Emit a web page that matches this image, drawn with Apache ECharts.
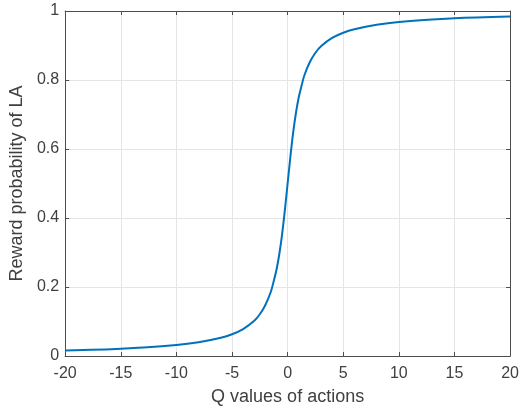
<!DOCTYPE html>
<html lang="en">
<head>
    <meta charset="UTF-8">
    <title>Reward probability of LA</title>
    <style>
        html, body { margin: 0; padding: 0; background: #fff; }
        #chart { width: 522px; height: 411px; }
    </style>
</head>
<body>
<div id="chart"></div>
<script src="https://cdn.jsdelivr.net/npm/echarts/dist/echarts.min.js"></script>
<script>
    // values
    const qValues = [-20, -15, -10, -8, -6, -5, -4, -3, -2.5, -2, -1.5, -1.25, -1, -0.75, -0.5, -0.25, 0,
        0.25, 0.5, 0.75, 1, 1.25, 1.5, 2, 2.5, 3, 4, 5, 6, 8, 10, 15, 20];
    const rewardProb = [0.016, 0.021, 0.032, 0.040, 0.053, 0.063, 0.078, 0.102, 0.121, 0.148, 0.187, 0.217, 0.250, 0.295, 0.352, 0.422, 0.500,
        0.578, 0.648, 0.705, 0.750, 0.783, 0.813, 0.852, 0.879, 0.898, 0.922, 0.937, 0.947, 0.960, 0.968, 0.979, 0.984];
    const xTicks = [-20, -15, -10, -5, 0, 5, 10, 15, 20];
    const yTicks = [0, 0.2, 0.4, 0.6, 0.8, 1];

    const axisColor = '#4d4d4d';
    const textColor = '#404040';
    const font = 'Liberation Sans, Arial, sans-serif';

    const chart = echarts.init(document.getElementById('chart'));

    const baseX = {
        type: 'value',
        min: xTicks[0],
        max: xTicks[xTicks.length - 1],
        interval: 5,
        axisLine: { show: true, onZero: false, lineStyle: { color: axisColor, width: 1 } },
        axisTick: { show: true, inside: true, length: 4, lineStyle: { color: axisColor } }
    };
    const baseY = {
        type: 'value',
        min: yTicks[0],
        max: yTicks[yTicks.length - 1],
        interval: 0.2,
        axisLine: { show: true, onZero: false, lineStyle: { color: axisColor, width: 1 } },
        axisTick: { show: true, inside: true, length: 4, lineStyle: { color: axisColor } }
    };

    chart.setOption({
        animation: false,
        grid: { left: 63, right: 11, top: 11, bottom: 52 },
        xAxis: [
            Object.assign({}, baseX, {
                position: 'bottom',
                name: 'Q values of actions',
                nameLocation: 'middle',
                nameGap: 32,
                nameTextStyle: { color: textColor, fontSize: 18, fontFamily: font },
                axisLabel: { color: textColor, fontSize: 16, fontFamily: font, margin: 10 },
                splitLine: { show: true, lineStyle: { color: '#e5e5e5', width: 1 } }
            }),
            Object.assign({}, baseX, {
                position: 'top',
                axisLabel: { show: false },
                splitLine: { show: false }
            })
        ],
        yAxis: [
            Object.assign({}, baseY, {
                position: 'left',
                name: 'Reward probability of LA',
                nameLocation: 'middle',
                nameGap: 33,
                nameTextStyle: { color: textColor, fontSize: 18, fontFamily: font },
                axisLabel: { color: textColor, fontSize: 16, fontFamily: font, margin: 6 },
                splitLine: { show: true, lineStyle: { color: '#e5e5e5', width: 1 } }
            }),
            Object.assign({}, baseY, {
                position: 'right',
                axisLabel: { show: false },
                splitLine: { show: false }
            })
        ],
        series: [{
            type: 'line',
            data: qValues.map((q, i) => [q, rewardProb[i]]),
            showSymbol: false,
            smooth: 0.3,
            lineStyle: { color: '#0072BD', width: 2 },
            itemStyle: { color: '#0072BD' }
        }]
    });
</script>
</body>
</html>
